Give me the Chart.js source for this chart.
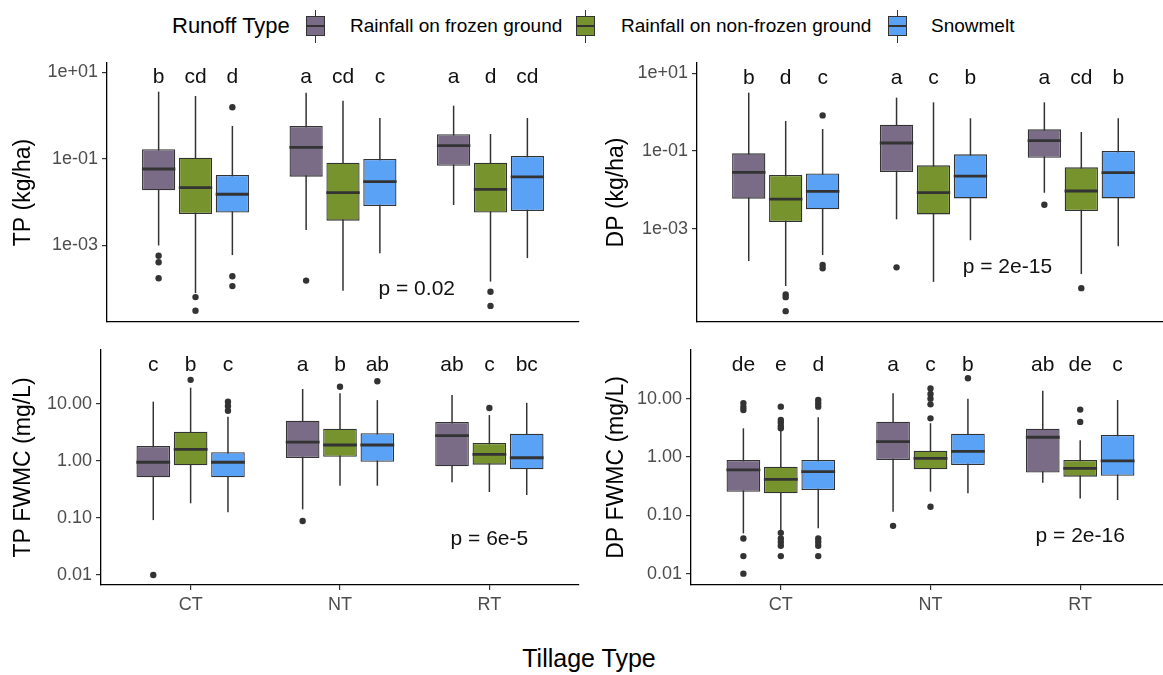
<!DOCTYPE html>
<html>
<head>
<meta charset="utf-8">
<script src="https://cdn.jsdelivr.net/npm/chart.js@4.4.1/dist/chart.umd.min.js"></script>
<style>
  body { margin: 0; width: 1163px; height: 675px; overflow: hidden; position: relative; background: #fff;
         font-family: "Liberation Sans", Arial, sans-serif; color: #000; }
  canvas { position: absolute; }
  .txt { position: absolute; white-space: nowrap; }
  .key { position: absolute; top: 10px; width: 19px; height: 33px; }
  .key .wh { position: absolute; left: 9px; top: 0; width: 1.3px; height: 33px; background: #333; }
  .key .bx { position: absolute; left: 0; top: 6px; width: 19px; height: 20px; box-sizing: border-box; border: 1.3px solid #333; }
  .key .md { position: absolute; left: 0; top: 15px; width: 19px; height: 2px; background: #333; }
</style>
</head>
<body>
<div class="txt" style="left:172px;top:13px;font-size:22px;line-height:26px">Runoff Type</div>
<div id="legend"></div>
<div class="txt" style="left:389px;width:400px;text-align:center;top:643px;font-size:25px;line-height:30px">Tillage Type</div>

<script>
// ---------------- DATA ----------------
const categories = ["CT", "NT", "RT"];
const runoffTypes = ["Rainfall on frozen ground", "Rainfall on non-frozen ground", "Snowmelt"];
const runoffColors = ["#7a6c86", "#77932e", "#5aa2f6"];

// box stats per tillage (CT, NT, RT): [lower whisker, Q1, median, Q3, upper whisker]
// TP (kg/ha)
const tpFrozen    = [[0.001, 0.0189, 0.0587, 0.168, 3.6], [0.00228, 0.039, 0.186, 0.58, 3.41], [0.00863, 0.070, 0.203, 0.372, 1.71]];
const tpNonFrozen = [[7.9e-5, 0.00535, 0.0217, 0.107, 2.86], [9.0e-5, 0.00375, 0.0167, 0.082, 2.23], [1.46e-4, 0.00575, 0.0199, 0.082, 0.378]];
const tpSnow      = [[6.0e-4, 0.00575, 0.0153, 0.0427, 0.58], [6.6e-4, 0.0082, 0.030, 0.1, 0.887], [5.1e-4, 0.00628, 0.0384, 0.117, 0.887]];
const tpFrozenOut    = [[5.8e-4, 4.1e-4, 1.74e-4], [1.54e-4], []];
const tpNonFrozenOut = [[6.4e-5, 3.1e-5], [], [8.5e-5, 4.0e-5]];
const tpSnowOut      = [[1.57, 1.94e-4, 1.15e-4], [], []];

// DP (kg/ha)
const dpFrozen    = [[1.45e-4, 0.0059, 0.0282, 0.087, 3.2], [0.00173, 0.0287, 0.161, 0.478, 2.38], [0.0084, 0.0673, 0.185, 0.362, 1.8]];
const dpNonFrozen = [[3.3e-5, 0.00147, 0.00577, 0.024, 0.594], [4.2e-5, 0.00232, 0.0084, 0.0427, 1.8], [6.7e-5, 0.00283, 0.0093, 0.0379, 0.309]];
const dpSnow      = [[2.07e-4, 0.00313, 0.0091, 0.0265, 0.37], [5.0e-4, 0.006, 0.0226, 0.082, 0.70], [3.5e-4, 0.006, 0.0276, 0.1, 0.70]];
const dpFrozenOut    = [[], [1.0e-4], [0.0041]];
const dpNonFrozenOut = [[2.0e-5, 1.7e-5, 7.4e-6], [], [2.9e-5]];
const dpSnowOut      = [[0.83, 1.15e-4, 9.4e-5], [], []];

// TP FWMC (mg/L)
const tpcFrozen    = [[0.092, 0.517, 0.95, 1.83, 11], [0.142, 1.13, 2.15, 5.1, 18.3], [0.423, 0.806, 2.78, 4.83, 14.4]];
const tpcNonFrozen = [[0.181, 0.84, 1.6, 3.27, 19.3], [0.369, 1.19, 1.91, 3.69, 15.4], [0.286, 0.863, 1.31, 2.07, 6.4]];
const tpcSnow      = [[0.126, 0.517, 0.95, 1.42, 6.0], [0.369, 0.97, 1.91, 3.06, 11.7], [0.253, 0.715, 1.14, 3.02, 10.5]];
const tpcFrozenOut    = [[0.01], [0.0886], []];
const tpcNonFrozenOut = [[26.5], [20.1], [8.5]];
const tpcSnowOut      = [[11, 9.2, 7.6], [25], []];

// DP FWMC (mg/L)
const dpcFrozen    = [[0.049, 0.254, 0.6, 0.89, 3.1], [0.115, 0.89, 1.83, 4.03, 12.4], [0.363, 0.54, 2.18, 3.06, 13.7]];
const dpcNonFrozen = [[0.056, 0.238, 0.414, 0.68, 2.83], [0.254, 0.615, 0.95, 1.28, 3.8], [0.195, 0.46, 0.64, 0.89, 1.93]];
const dpcSnow      = [[0.06, 0.272, 0.56, 0.89, 4.8], [0.238, 0.73, 1.25, 2.51, 10], [0.183, 0.478, 0.86, 2.38, 9.5]];
const dpcFrozenOut    = [[8.4, 7.2, 6.4, 0.04, 0.02, 0.01], [0.066], []];
const dpcNonFrozenOut = [[7.3, 4.3, 3.9, 3.4, 3.1, 0.05, 0.04, 0.035, 0.03, 0.02], [15, 12, 10, 8, 4.6, 0.14], [6.5, 4.0]];
const dpcSnowOut      = [[9.5, 8.3, 7.3, 0.04, 0.035, 0.03, 0.02], [22.4], []];

// significance letters [tillage][runoff type] and p values
const tpLetters  = [["b", "cd", "d"], ["a", "cd", "c"], ["a", "d", "cd"]];
const dpLetters  = [["b", "d", "c"], ["a", "c", "b"], ["a", "cd", "b"]];
const tpcLetters = [["c", "b", "c"], ["a", "b", "ab"], ["ab", "c", "bc"]];
const dpcLetters = [["de", "e", "d"], ["a", "c", "b"], ["ab", "de", "c"]];
const pLabels = ["p = 0.02", "p = 2e-15", "p = 6e-5", "p = 2e-16"];

// tick values / labels
const loadTicks = [10, 0.1, 0.001];
const loadTickLabels = ["1e+01", "1e-01", "1e-03"];
const concTicks = [10, 1, 0.1, 0.01];
const concTickLabels = ["10.00", "1.00", "0.10", "0.01"];

// ---------------- LAYOUT ----------------
const FONT = '"Liberation Sans", Arial, sans-serif';
const CAT_PCT = 0.75;
const dodge = CAT_PCT / runoffTypes.length;
const legendKeyLeft = [306, 576, 888];
const legendTextLeft = [350, 621, 931];

const panels = [
  { yTitle: "TP (kg/ha)", stats: [tpFrozen, tpNonFrozen, tpSnow], outs: [tpFrozenOut, tpNonFrozenOut, tpSnowOut],
    letters: tpLetters, pLabel: pLabels[0], ticks: loadTicks, tickLabels: loadTickLabels, showX: false,
    yRange: [10 ** -4.77, 10 ** 1.22], letterY: 7.7, pAt: [2.5, 1e-4],
    box: [0, 45, 590, 295], plot: [107, 63, 579, 322], titlePad: 10 },
  { yTitle: "DP (kg/ha)", stats: [dpFrozen, dpNonFrozen, dpSnow], outs: [dpFrozenOut, dpNonFrozenOut, dpSnowOut],
    letters: dpLetters, pLabel: pLabels[1], ticks: loadTicks, tickLabels: loadTickLabels, showX: false,
    yRange: [10 ** -5.41, 10 ** 1.27], letterY: 7.7, pAt: [2.5, 1e-4],
    box: [590, 45, 590, 295], plot: [697, 63, 1170, 322], titlePad: 13 },
  { yTitle: "TP FWMC (mg/L)", stats: [tpcFrozen, tpcNonFrozen, tpcSnow], outs: [tpcFrozenOut, tpcNonFrozenOut, tpcSnowOut],
    letters: tpcLetters, pLabel: pLabels[2], ticks: concTicks, tickLabels: concTickLabels, showX: true,
    yRange: [10 ** -2.175, 10 ** 1.947], letterY: 47, pAt: [3, 0.043],
    box: [0, 330, 590, 295], plot: [101, 350, 579, 585], titlePad: 10 },
  { yTitle: "DP FWMC (mg/L)", stats: [dpcFrozen, dpcNonFrozen, dpcSnow], outs: [dpcFrozenOut, dpcNonFrozenOut, dpcSnowOut],
    letters: dpcLetters, pLabel: pLabels[3], ticks: concTicks, tickLabels: concTickLabels, showX: true,
    yRange: [10 ** -2.195, 10 ** 1.835], letterY: 38, pAt: [3, 0.044],
    box: [590, 330, 590, 295], plot: [691, 350, 1170, 585], titlePad: 13 }
];

Chart.defaults.font.family = FONT;

// ---------------- LEGEND ----------------
const legend = document.getElementById("legend");
runoffTypes.forEach((name, k) => {
  const key = document.createElement("div");
  key.className = "key";
  key.style.left = legendKeyLeft[k] + "px";
  key.innerHTML = `<div class="wh"></div><div class="bx" style="background:${runoffColors[k]}"></div><div class="md"></div>`;
  legend.appendChild(key);
  const t = document.createElement("div");
  t.className = "txt";
  t.style.cssText = `left:${legendTextLeft[k]}px;top:15px;font-size:19px;line-height:22px`;
  t.textContent = name;
  legend.appendChild(t);
});

// ---------------- PANELS ----------------
function makePanel(p) {
  const [bl, bt, bw, bh] = p.box;
  const [pl, pt, pr, pb] = p.plot;
  const canvas = document.createElement("canvas");
  canvas.width = bw;
  canvas.height = bh;
  canvas.style.left = bl + "px";
  canvas.style.top = bt + "px";
  document.body.appendChild(canvas);

  const datasets = [];
  runoffTypes.forEach((name, s) => {
    const st = p.stats[s];
    const pts = k => st.map((row, i) => ({ x: i + 1, y: k.map(j => row[j]) }));
    // median line
    datasets.push({ type: "bar", stack: "r" + s, order: 0, data: pts([2, 2]),
      backgroundColor: "#333333", borderWidth: 0, inflateAmount: 1.4, barPercentage: 0.83, categoryPercentage: CAT_PCT });
    // box
    datasets.push({ type: "bar", stack: "r" + s, order: 1, data: pts([1, 3]),
      backgroundColor: runoffColors[s], borderColor: "#333333", borderWidth: 1.3, borderSkipped: false,
      barPercentage: 0.9, categoryPercentage: CAT_PCT });
    // whiskers
    datasets.push({ type: "bar", stack: "r" + s, order: 2, data: pts([0, 4]),
      backgroundColor: "#333333", borderWidth: 0, maxBarThickness: 1.5, barPercentage: 0.9, categoryPercentage: CAT_PCT });
    // outliers
    datasets.push({ type: "scatter", order: 0,
      data: p.outs[s].flatMap((arr, i) => arr.map(v => ({ x: i + 1 + (s - 1) * dodge, y: v }))),
      pointRadius: 3.2, pointBackgroundColor: "#333333", pointBorderWidth: 0 });
  });

  const annotate = {
    id: "annotate",
    afterDatasetsDraw(chart) {
      const { ctx, scales: { x, y } } = chart;
      ctx.save();
      ctx.fillStyle = "#111";
      ctx.font = "21px " + FONT;
      ctx.textAlign = "center";
      ctx.textBaseline = "middle";
      p.letters.forEach((row, i) => row.forEach((txt, s) => {
        ctx.fillText(txt, x.getPixelForValue(i + 1 + (s - 1) * dodge), y.getPixelForValue(p.letterY));
      }));
      ctx.fillText(p.pLabel, x.getPixelForValue(p.pAt[0]), y.getPixelForValue(p.pAt[1]));
      ctx.restore();
    }
  };

  new Chart(canvas, {
    type: "bar",
    data: { datasets },
    plugins: [annotate],
    options: {
      responsive: false,
      animation: false,
      events: [],
      layout: { padding: { left: 0, top: pt - bt, right: bl + bw - pr, bottom: 0 } },
      plugins: { legend: { display: false }, tooltip: { enabled: false } },
      scales: {
        x: {
          type: "linear", min: 0.4, max: 3.6, offset: false, bounds: "data", stacked: true,
          afterBuildTicks: s => { s.ticks = categories.map((c, i) => ({ value: i + 1 })); },
          afterFit: s => { s.height = bt + bh - pb; },
          ticks: { display: p.showX, callback: (v, i) => categories[i], color: "#4d4d4d",
                   font: { size: 18 }, padding: 4, autoSkip: false, maxRotation: 0 },
          grid: { display: true, offset: false, drawOnChartArea: false, drawTicks: p.showX, tickLength: 5, color: "#333", lineWidth: 1.2 },
          border: { display: true, color: "#000", width: 1.3 }
        },
        y: {
          type: "logarithmic", min: p.yRange[0], max: p.yRange[1], bounds: "data", stacked: false,
          afterBuildTicks: s => { s.ticks = p.ticks.map(v => ({ value: v })); },
          afterFit: s => { s.width = pl - bl; },
          ticks: { callback: (v, i) => p.tickLabels[i], color: "#4d4d4d", font: { size: 18 }, padding: 4, autoSkip: false },
          grid: { drawOnChartArea: false, drawTicks: true, tickLength: 5, color: "#333", lineWidth: 1.2 },
          border: { display: true, color: "#000", width: 1.3 },
          title: { display: true, text: p.yTitle, color: "#000", font: { size: 23 }, padding: { top: p.titlePad, bottom: 0 } }
        }
      }
    }
  });
}

panels.forEach(makePanel);
</script>
</body>
</html>
